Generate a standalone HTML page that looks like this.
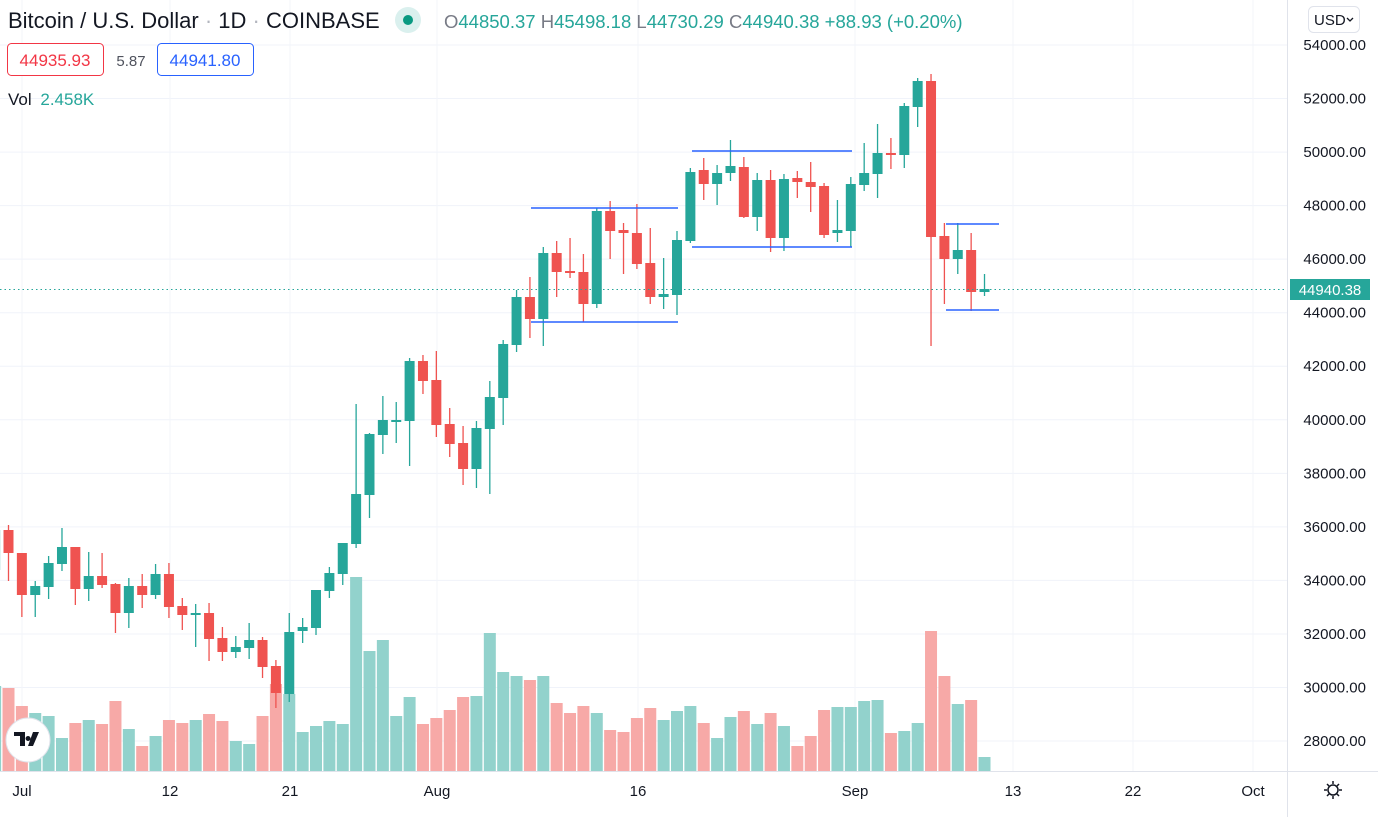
<!DOCTYPE html>
<html><head><meta charset="utf-8"><style>
html,body{margin:0;padding:0;background:#fff;width:1378px;height:817px;overflow:hidden;font-family:"Liberation Sans",sans-serif;}
svg{display:block}
</style></head><body>
<svg id="c" width="1378" height="817" xmlns="http://www.w3.org/2000/svg">
<g id="grid"></g>
<g id="vol"></g>
<g id="cand"></g>
<g stroke="#2962ff" stroke-width="1.6">
<line x1="531" y1="208" x2="678" y2="208"/><line x1="531" y1="322" x2="678" y2="322"/>
<line x1="692" y1="151" x2="852" y2="151"/><line x1="692" y1="247" x2="852" y2="247"/>
<line x1="946" y1="224" x2="999" y2="224"/><line x1="946" y1="310" x2="999" y2="310"/>
</g>
<line x1="0" y1="289.5" x2="1287" y2="289.5" stroke="#26a69a" stroke-width="1" stroke-dasharray="1.5,3"/>
<line x1="1287.5" y1="0" x2="1287.5" y2="817" stroke="#e0e3eb"/>
<line x1="0" y1="771.5" x2="1378" y2="771.5" stroke="#e0e3eb"/>
<g id="axis" font-size="15" fill="#131722"></g>
<rect x="1290" y="279" width="80" height="21" fill="#26a69a"/>
<text x="1330" y="295" font-size="15" fill="#fff" text-anchor="middle">44940.38</text>
<g font-size="15" fill="#131722" text-anchor="middle">
<text x="22" y="796">Jul</text><text x="170" y="796">12</text><text x="290" y="796">21</text><text x="437" y="796">Aug</text><text x="638" y="796">16</text><text x="855" y="796">Sep</text><text x="1013" y="796">13</text><text x="1133" y="796">22</text><text x="1253" y="796">Oct</text>
</g>
<g stroke="#131722" stroke-width="1.5" fill="none"><circle cx="1333" cy="790" r="5"/>
<path d="M1333 781v3M1333 796v3M1324 790h3M1339 790h3M1327 784l2 2M1337 794l2 2M1327 796l2-2M1337 786l2-2"/></g>
<rect x="1308.5" y="6.5" width="51" height="26" rx="5" fill="#fff" stroke="#e0e3eb"/>
<text x="1314" y="25" font-size="15" fill="#131722">USD</text>
<path d="M1347 18l3 3 3-3" stroke="#131722" fill="none" stroke-width="1.3"/>
<text x="8" y="28" font-size="22" fill="#131722">Bitcoin / U.S. Dollar <tspan fill="#b2b5be">·</tspan> 1D <tspan fill="#b2b5be">·</tspan> COINBASE</text>
<circle cx="408" cy="20" r="13" fill="#daf0ee"/><circle cx="408" cy="20" r="5" fill="#089981"/>
<text x="444" y="28" font-size="18.5" fill="#26a69a"><tspan fill="#787b86">O</tspan>44850.37 <tspan fill="#787b86">H</tspan>45498.18 <tspan fill="#787b86">L</tspan>44730.29 <tspan fill="#787b86">C</tspan>44940.38 +88.93 (+0.20%)</text>
<rect x="7.5" y="43.5" width="96" height="32" rx="4" fill="#fff" stroke="#f23645"/>
<text x="55" y="66" font-size="17" fill="#f23645" text-anchor="middle">44935.93</text>
<text x="131" y="66" font-size="15" fill="#50535e" text-anchor="middle">5.87</text>
<rect x="157.5" y="43.5" width="96" height="32" rx="4" fill="#fff" stroke="#2962ff"/>
<text x="205" y="66" font-size="17" fill="#2962ff" text-anchor="middle">44941.80</text>
<text x="8" y="105" font-size="17" fill="#131722">Vol <tspan fill="#26a69a" dx="4">2.458K</tspan></text>
<circle cx="28" cy="740" r="22" fill="#fff" stroke="#e0e3eb" stroke-width="1"/>
<path d="M14 732h11v14h-5v-10h-6z M28 736a2.5 2.5 0 1 0 0.1 0z M33 732h6l-6 14h-5z" fill="#131722"/>
</svg>
<script>
var D=[
[-1,'g',530,570,525,580,686],[0,'r',530,553,525,581,688],[1,'r',553,595,553,617,706],[2,'g',586,595,581,617,713],[3,'g',563,587,556,599,716],[4,'g',547,564,528,571,738],[5,'r',547,589,547,605,723],[6,'g',576,589,552,601,720],[7,'r',576,585,553,588,724],[8,'r',584,613,583,633,701],[9,'g',586,613,578,628,729],[10,'r',586,595,574,608,746],[11,'g',574,595,564,599,736],[12,'r',574,607,563,618,720],[13,'r',606,615,598,630,723],[14,'g',613,615,604,647,720],[15,'r',613,639,603,661,714],[16,'r',638,652,627,661,721],[17,'g',647,652,636,658,741],[18,'g',640,648,623,659,744],[19,'r',640,667,637,678,716],[20,'r',666,693,660,708,684],[21,'g',632,694,613,702,694],[22,'g',627,631,618,643,732],[23,'g',590,628,590,635,726],[24,'g',573,591,567,598,721],[25,'g',543,574,543,585,724],[26,'g',494,544,404,548,577],[27,'g',434,495,433,518,651],[28,'g',420,435,396,454,640],[29,'g',420,421,402,443,716],[30,'g',361,421,358,466,697],[31,'r',361,381,355,394,724],[32,'r',380,425,351,437,718],[33,'r',424,444,408,457,710],[34,'r',443,469,426,485,697],[35,'g',428,469,421,488,696],[36,'g',397,429,381,494,633],[37,'g',344,398,340,425,672],[38,'g',297,345,290,352,676],[39,'r',297,319,277,338,680],[40,'g',253,319,247,346,676],[41,'r',253,272,241,297,703],[42,'r',271,273,238,278,713],[43,'r',272,304,254,322,706],[44,'g',211,304,208,308,713],[45,'r',211,231,201,259,730],[46,'r',230,233,223,274,732],[47,'r',233,264,204,269,718],[48,'r',263,297,228,304,708],[49,'g',294,297,258,309,720],[50,'g',240,295,231,315,711],[51,'g',172,241,168,243,706],[52,'r',170,184,158,200,723],[53,'g',173,184,165,205,738],[54,'g',166,173,140,181,717],[55,'r',167,217,157,218,711],[56,'g',180,217,173,231,724],[57,'r',180,238,170,252,713],[58,'g',179,238,174,251,726],[59,'r',178,182,171,198,746],[60,'r',182,187,162,212,736],[61,'r',186,235,183,238,710],[62,'g',230,233,200,242,707],[63,'g',184,231,177,247,707],[64,'g',173,185,143,191,701],[65,'g',153,174,124,198,700],[66,'r',153,155,138,169,733],[67,'g',106,155,103,168,731],[68,'g',81,107,78,127,723],[69,'r',81,237,74,346,631],[70,'r',236,259,223,304,676],[71,'g',250,259,223,274,704],[72,'r',250,292,233,311,700],[73,'g',289,292,274,296,757]];
var NS='http://www.w3.org/2000/svg';
function el(p,t,a){var e=document.createElementNS(NS,t);for(var k in a)e.setAttribute(k,a[k]);p.appendChild(e);return e;}
var grid=document.getElementById('grid'),vol=document.getElementById('vol'),cand=document.getElementById('cand'),ax=document.getElementById('axis');
for(var i=0;i<=13;i++){var p=54000-i*2000,y=45+i*53.54;el(grid,'line',{x1:0,x2:1287,y1:y,y2:y,stroke:'#f0f3fa','stroke-width':1});var t=el(ax,'text',{x:1366,y:y+5,'text-anchor':'end'});t.textContent=p.toFixed(2);}
[22,170,290,437,638,855,1013,1133,1253].forEach(function(x){el(grid,'line',{x1:x,x2:x,y1:0,y2:771,stroke:'#f3f5fa','stroke-width':1});});
D.forEach(function(d){var x=8.5+d[0]*13.37;var g=d[1]=='g';var col=g?'#26a69a':'#ef5350';
el(vol,'rect',{x:x-6,y:d[6],width:12,height:771-d[6],fill:g?'#92d2cc':'#f7a9a7'});
el(cand,'line',{x1:x,x2:x,y1:d[4],y2:d[5],stroke:col,'stroke-width':1.3});
var h=Math.max(d[3]-d[2],2);el(cand,'rect',{x:x-5,y:d[2],width:10,height:h,fill:col});});
</script>
</body></html>
